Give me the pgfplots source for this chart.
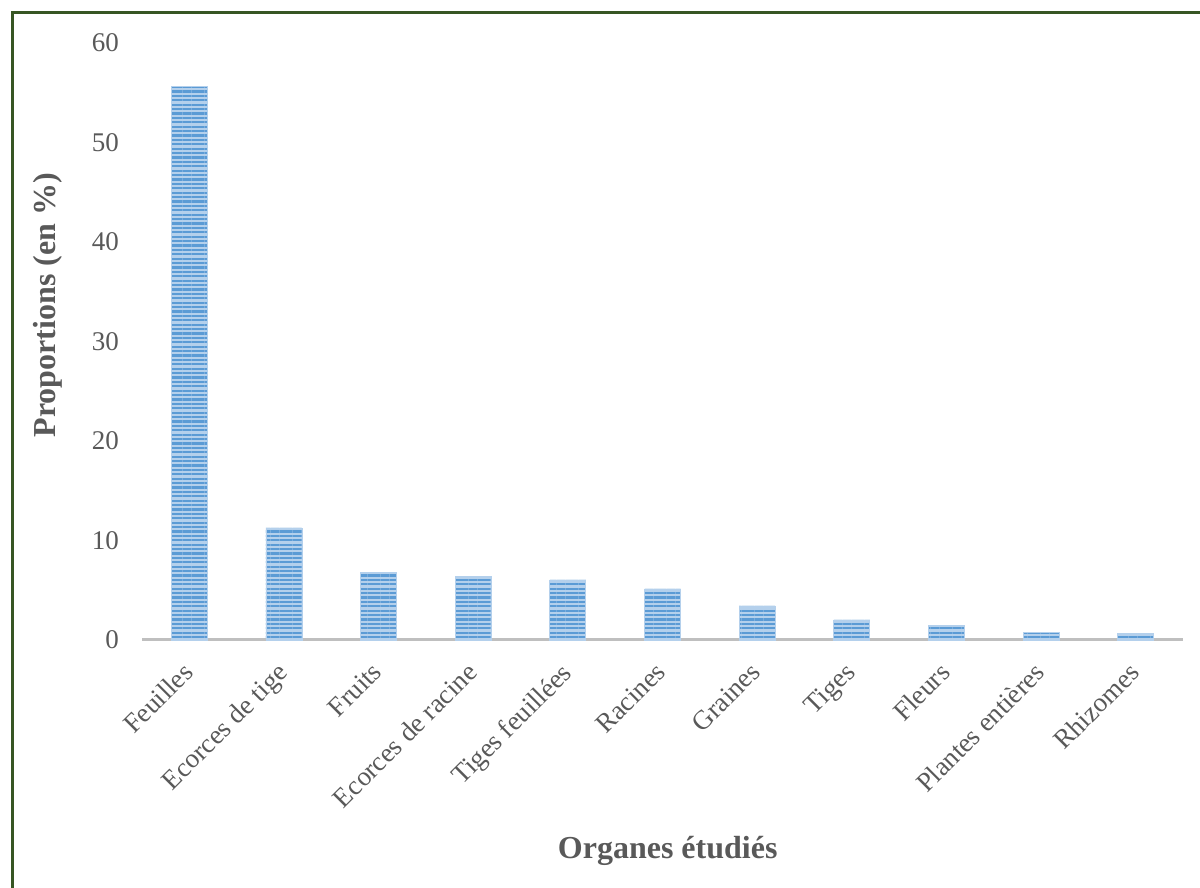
\documentclass[border=0pt]{standalone}
\usepackage{fontspec}
\setmainfont{Liberation Serif}
\usepackage{pgfplots}
\pgfplotsset{compat=1.18}
\usetikzlibrary{patterns.meta}
\definecolor{txtgray}{HTML}{595959}
\definecolor{axgray}{HTML}{BFBFBF}
\definecolor{barblue}{HTML}{5B9BD5}
\definecolor{barlight}{HTML}{B4D0EC}
\definecolor{framegreen}{HTML}{375623}

\begin{document}
\begin{tikzpicture}
\path[use as bounding box, clip] (0,0) rectangle (600pt,444pt);
\draw[framegreen, line width=1.5pt] (6pt,-10pt) -- (6pt,437.5pt) -- (610pt,437.5pt);
\begin{axis}[
  at={(71pt,124pt)}, anchor=south west,
  scale only axis, width=520.5pt, height=298.5pt,
  xmin=-0.5, xmax=10.5, ymin=0, ymax=60,
  axis x line*=bottom, axis y line*=left,
  x axis line style={axgray, line width=1.5pt, -},
  y axis line style={draw=none},
  ytick={0,10,...,60}, xtick=data,
  xticklabels={Feuilles, Ecorces de tige, Fruits, Ecorces de racine, Tiges feuillées, Racines, Graines, Tiges, Fleurs, Plantes entières, Rhizomes},
  major tick length=0pt,
  tick label style={font=\fontsize{13.5}{16}\selectfont, text=txtgray},
  /pgf/number format/assume math mode=true,
  xticklabel style={rotate=45, anchor=north east, inner sep=0pt, yshift=-4.5pt, xshift=-10.1pt},
  yticklabel style={anchor=east, xshift=-8pt},
  ylabel={Proportions (en \%)},
  xlabel={Organes étudiés},
  label style={font=\fontsize{16}{18}\selectfont\bfseries, text=txtgray},
  ylabel style={at={(axis description cs:-0.0903,0.561)}, anchor=center},
  xlabel style={at={(axis description cs:0.505,-0.3534)}, anchor=center},
  ybar, bar width=18pt,
  clip=false,
]
\addplot[draw=barlight, line width=0.4pt, fill=barlight,
  postaction={pattern={Lines[angle=0, distance=2.2pt, line width=1.1pt]}, pattern color=barblue}]
  coordinates {(0,55.6) (1,11.26) (2,6.83) (3,6.43) (4,6.03) (5,5.13) (6,3.42) (7,2.01) (8,1.5) (9,0.8) (10,0.7)};
\end{axis}
\end{tikzpicture}
\end{document}
